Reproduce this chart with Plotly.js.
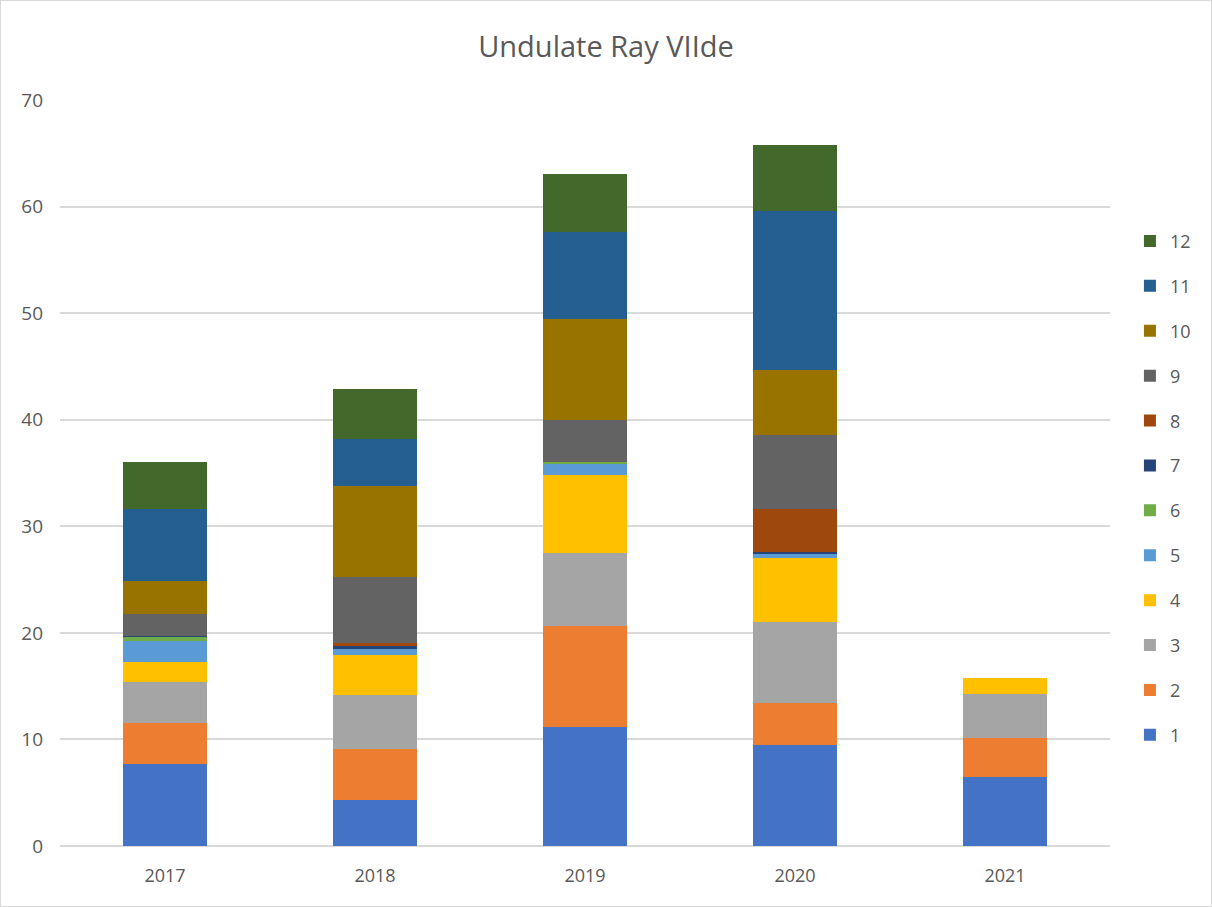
<!DOCTYPE html>
<html>
<head>
<meta charset="utf-8">
<script src="https://cdn.plot.ly/plotly-3.0.1.min.js"></script>
<style>
html,body{margin:0;padding:0;background:#fff;}
#chart{width:1210px;height:905px;border:1px solid #d9d9d9;}
</style>
</head>
<body>
<div id="chart"></div>
<script>
const years = ["2017", "2018", "2019", "2020", "2021"];
const seriesNames = ["1","2","3","4","5","6","7","8","9","10","11","12"];
const s1  = [7.7, 4.3, 11.2, 9.5, 6.5];
const s2  = [3.8, 4.8, 9.4, 3.9, 3.6];
const s3  = [3.9, 5.1, 6.85, 7.6, 4.2];
const s4  = [1.9, 3.7, 7.4, 6.0, 1.45];
const s5  = [1.95, 0.6, 1.0, 0.4, 0];
const s6  = [0.35, 0, 0.2, 0, 0];
const s7  = [0.1, 0.25, 0, 0.2, 0];
const s8  = [0, 0.3, 0, 4.0, 0];
const s9  = [2.1, 6.15, 3.9, 7.0, 0];
const s10 = [3.1, 8.6, 9.5, 6.1, 0];
const s11 = [6.7, 4.4, 8.2, 14.9, 0];
const s12 = [4.4, 4.7, 5.4, 6.2, 0];
const seriesValues = [s1,s2,s3,s4,s5,s6,s7,s8,s9,s10,s11,s12];
const colors = ["#4472C4","#ED7D31","#A5A5A5","#FFC000","#5B9BD5","#70AD47",
                "#264478","#9E480E","#636363","#997300","#255E91","#43682B"];

const traces = seriesNames.map((n, i) => ({
  type: "bar",
  name: n,
  x: years,
  y: seriesValues[i],
  legendgroup: "g" + n,
  legendrank: 100 - i,
  marker: {color: colors[i], line: {width: 0}},
  hoverinfo: "x+y+name"
}));

const font = "'Open Sans', sans-serif";
const layout = {
  width: 1210, height: 905,
  barmode: "stack",
  bargap: 0.6,
  paper_bgcolor: "#ffffff",
  plot_bgcolor: "#ffffff",
  margin: {l: 59, r: 101, t: 99, b: 60},
  title: {text: "Undulate Ray VIIde", x: 0.5, xanchor: "center", y: 0.949, yanchor: "middle",
          font: {family: font, size: 29, color: "#595959"}},
  font: {family: font, color: "#595959", size: 18},
  xaxis: {type: "category", showgrid: false, showline: false, zeroline: false,
          ticks: "", ticklabelstandoff: 17, tickfont: {family: font, size: 18, color: "#595959"}},
  yaxis: {range: [0, 70], dtick: 10, showgrid: true, gridcolor: "#d9d9d9", gridwidth: 2,
          zeroline: true, zerolinecolor: "#d9d9d9", zerolinewidth: 2, showline: false,
          ticks: "", ticklabelstandoff: 16, tickfont: {family: font, size: 19, color: "#595959"}},
  showlegend: true,
  legend: {xref: "container", yref: "container", x: 0.933, xanchor: "left", y: 0.755, yanchor: "top",
           traceorder: "grouped", tracegroupgap: 18.5, maxheight: 800,
           font: {family: font, size: 18, color: "#595959"}, bgcolor: "rgba(0,0,0,0)"}
};

Plotly.newPlot("chart", traces, layout, {displayModeBar: false, staticPlot: true});
</script>
</body>
</html>
